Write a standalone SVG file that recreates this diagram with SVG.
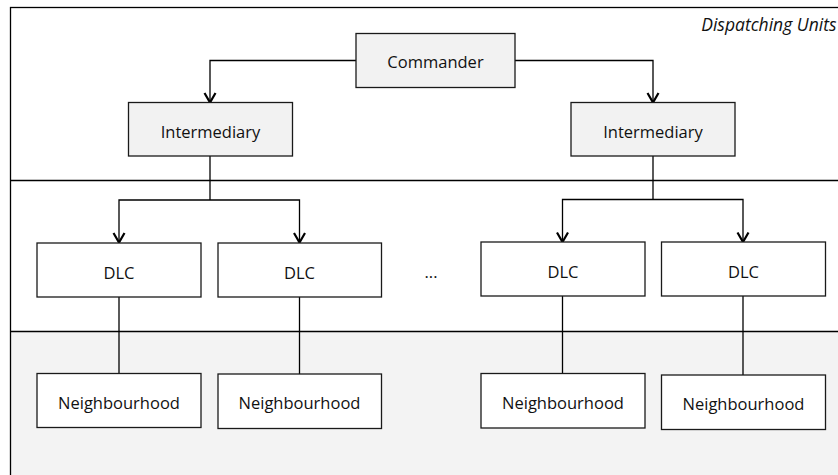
<svg xmlns="http://www.w3.org/2000/svg" width="838" height="475" viewBox="0 0 838 475">
  <defs>
    <marker id="arrow" markerUnits="userSpaceOnUse" markerWidth="14" markerHeight="14" refX="12" refY="7" orient="auto" viewBox="0 0 14 14">
      <path d="M 2.5 1.5 L 12 7 L 2.5 12.5" fill="none" stroke="#000" stroke-width="2.2"/>
    </marker>
    <style>
      .frame { fill: none; stroke: #000; stroke-width: 1.3; }
      .band { fill: #f3f3f3; stroke: none; }
      .divider { stroke: #000; stroke-width: 1.3; }
      .box { stroke: #1a1a1a; stroke-width: 1.3; }
      .grey { fill: #f2f2f2; }
      .white { fill: #ffffff; }
      .label { font-family: "Open Sans", "Liberation Sans", sans-serif; font-size: 16.5px; fill: #111; text-anchor: middle; }
      .title { font-family: "Open Sans", "Liberation Sans", sans-serif; font-size: 17.5px; font-style: italic; fill: #111; text-anchor: end; }
      .wire { fill: none; stroke: #000; stroke-width: 1.3; }
      .arrowed { marker-end: url(#arrow); }
    </style>
  </defs>

  <rect width="838" height="475" fill="#ffffff"/>

  <!-- layer bands -->
  <g id="layers">
    <rect class="band" x="10" y="331.5" width="840" height="150"/>
    <rect class="frame" x="10.5" y="7.5" width="840" height="480"/>
    <line class="divider" x1="10" y1="180.5" x2="838" y2="180.5"/>
    <line class="divider" x1="10" y1="331.5" x2="838" y2="331.5"/>
    <text class="title" x="836.5" y="31">Dispatching Units</text>
  </g>

  <!-- connectors -->
  <g id="connectors">
    <path class="wire arrowed" d="M 356 60.5 H 210 V 102.5"/>
    <path class="wire arrowed" d="M 515 60.5 H 653 V 102.5"/>
    <path class="wire" d="M 210 156 V 200"/>
    <path class="wire arrowed" d="M 210 200 H 119 V 242.5"/>
    <path class="wire arrowed" d="M 210 200 H 299.5 V 242.5"/>
    <path class="wire" d="M 653 156 V 199.5"/>
    <path class="wire arrowed" d="M 653 199.5 H 562.5 V 242"/>
    <path class="wire arrowed" d="M 653 199.5 H 743 V 242"/>
    <path class="wire" d="M 119 297 V 373.5"/>
    <path class="wire" d="M 299.5 297 V 374"/>
    <path class="wire" d="M 562.5 296 V 373.5"/>
    <path class="wire" d="M 743 296 V 375"/>
  </g>

  <g id="commander">
    <rect class="box grey" x="356" y="33.5" width="159" height="54"/>
    <text class="label" x="435.5" y="67.5">Commander</text>
  </g>

  <g id="intermediary-left">
    <rect class="box grey" x="128.5" y="102.5" width="164" height="53.5"/>
    <text class="label" x="210.5" y="138">Intermediary</text>
  </g>
  <g id="intermediary-right">
    <rect class="box grey" x="571" y="102.5" width="164" height="53.5"/>
    <text class="label" x="653" y="138">Intermediary</text>
  </g>

  <g id="dlc-1">
    <rect class="box white" x="37" y="243" width="164" height="54"/>
    <text class="label" x="119" y="278.5">DLC</text>
  </g>
  <g id="dlc-2">
    <rect class="box white" x="218" y="243" width="163.5" height="54"/>
    <text class="label" x="299.5" y="278.5">DLC</text>
  </g>
  <g id="ellipsis">
    <text class="label" x="431" y="278">...</text>
  </g>
  <g id="dlc-3">
    <rect class="box white" x="481" y="242" width="164" height="54"/>
    <text class="label" x="563" y="277.5">DLC</text>
  </g>
  <g id="dlc-4">
    <rect class="box white" x="661.5" y="242" width="164" height="54"/>
    <text class="label" x="743.5" y="277.5">DLC</text>
  </g>

  <g id="neighbourhood-1">
    <rect class="box white" x="37" y="373.5" width="164" height="54"/>
    <text class="label" x="119" y="408.5">Neighbourhood</text>
  </g>
  <g id="neighbourhood-2">
    <rect class="box white" x="218" y="374" width="163.5" height="54.5"/>
    <text class="label" x="299.5" y="409">Neighbourhood</text>
  </g>
  <g id="neighbourhood-3">
    <rect class="box white" x="481" y="373.5" width="164" height="54.5"/>
    <text class="label" x="563" y="409">Neighbourhood</text>
  </g>
  <g id="neighbourhood-4">
    <rect class="box white" x="661.5" y="375" width="164" height="54.5"/>
    <text class="label" x="743.5" y="410">Neighbourhood</text>
  </g>
</svg>
